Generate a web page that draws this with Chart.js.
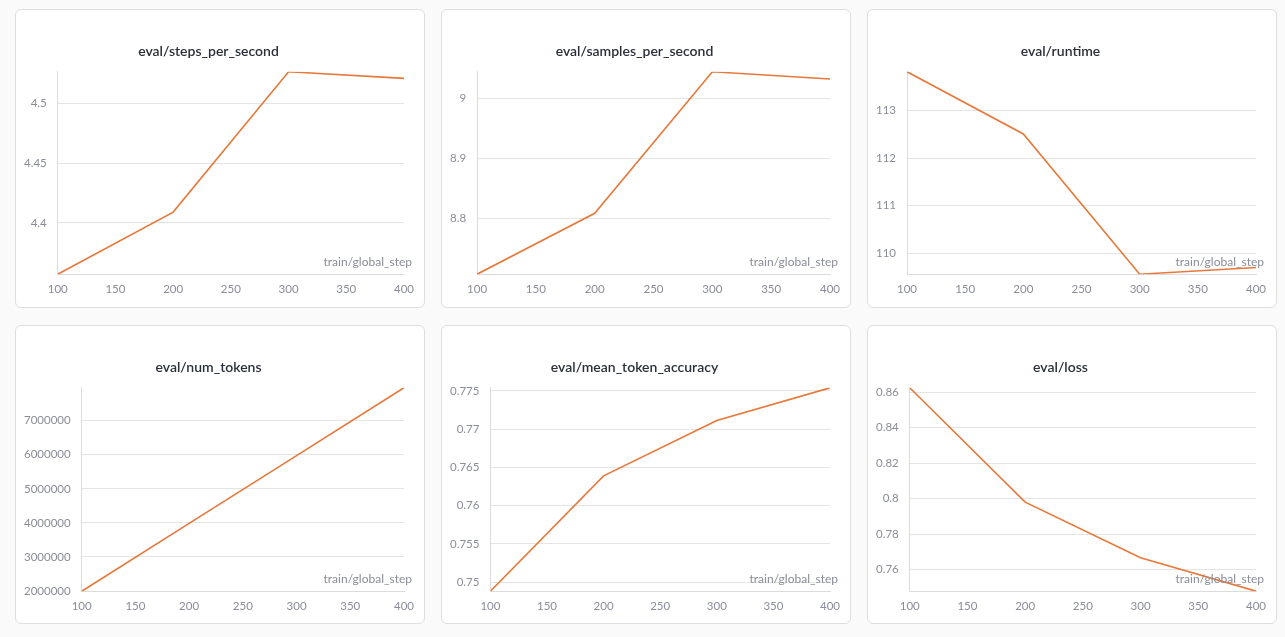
<!DOCTYPE html>
<html>
<head>
<meta charset="utf-8">
<script src="https://cdn.jsdelivr.net/npm/chart.js@4.4.0/dist/chart.umd.min.js"></script>
<style>
  html, body { margin: 0; padding: 0; background: #fafafa; width: 1285px; height: 637px; overflow: hidden; }
  .card { position: absolute; width: 408px; height: 297px; background: #fff; border: 1px solid #dedede; border-radius: 6px; box-sizing: content-box; }
  .card canvas { position: absolute; left: 0; top: 0; }
</style>
</head>
<body>
<div class="card" style="left:15px;top:9px"><canvas id="c0" width="408" height="297"></canvas></div>
<div class="card" style="left:441px;top:9px"><canvas id="c1" width="408" height="297"></canvas></div>
<div class="card" style="left:867px;top:9px"><canvas id="c2" width="408" height="297"></canvas></div>
<div class="card" style="left:15px;top:325px"><canvas id="c3" width="408" height="298"></canvas></div>
<div class="card" style="left:441px;top:325px"><canvas id="c4" width="408" height="298"></canvas></div>
<div class="card" style="left:867px;top:325px"><canvas id="c5" width="408" height="298"></canvas></div>
<script>
const steps = [100, 200, 300, 400];
const xTicks = [100, 150, 200, 250, 300, 350, 400];

const stepsPerSecond = [4.357, 4.409, 4.5265, 4.521];
const samplesPerSecond = [8.706, 8.808, 9.045, 9.033];
const runtime = [113.816, 112.507, 109.556, 109.696];
const numTokens = [1995000, 3985000, 5975000, 7965000];
const meanTokenAccuracy = [0.74881, 0.76389, 0.77113, 0.7754];
const evalLoss = [0.8625, 0.7981, 0.7668, 0.7479];

const ticksSteps = [4.4, 4.45, 4.5];
const ticksSamples = [8.8, 8.9, 9];
const ticksRuntime = [110, 111, 112, 113];
const ticksTokens = [2000000, 3000000, 4000000, 5000000, 6000000, 7000000];
const ticksAccuracy = [0.75, 0.755, 0.76, 0.765, 0.77, 0.775];
const ticksLoss = [0.76, 0.78, 0.8, 0.82, 0.84, 0.86];

const panels = [
  ['eval/steps_per_second', stepsPerSecond, ticksSteps],
  ['eval/samples_per_second', samplesPerSecond, ticksSamples],
  ['eval/runtime', runtime, ticksRuntime],
  ['eval/num_tokens', numTokens, ticksTokens],
  ['eval/mean_token_accuracy', meanTokenAccuracy, ticksAccuracy],
  ['eval/loss', evalLoss, ticksLoss]
];

// x axis name sits inside the plot, bottom right
const axisLabel = {
  id: 'axisLabel',
  afterDraw(chart) {
    const ctx = chart.ctx;
    const a = chart.chartArea;
    ctx.save();
    ctx.font = '12px Lato';
    ctx.fillStyle = '#8a8c99';
    ctx.textAlign = 'right';
    ctx.textBaseline = 'bottom';
    ctx.fillText('train/global_step', a.right + 8, a.bottom - 6);
    ctx.restore();
  }
};

Chart.defaults.font.family = 'Lato';
Chart.defaults.color = '#8a8c99';

panels.forEach(function (p, i) {
  const vals = p[1];
  const tickVals = p[2];
  new Chart(document.getElementById('c' + i), {
    type: 'line',
    data: {
      datasets: [{
        data: steps.map((s, j) => ({ x: s, y: vals[j] })),
        borderColor: '#e8773a',
        borderWidth: 1.6,
        pointRadius: 0,
        tension: 0
      }]
    },
    options: {
      responsive: false,
      animation: false,
      layout: { padding: { left: -3, right: 20, top: 0, bottom: 3 } },
      plugins: {
        legend: { display: false },
        tooltip: { enabled: false },
        title: {
          display: true,
          text: p[0],
          color: '#2b2f3a',
          font: { size: 14, weight: '600', family: 'Lato' },
          padding: { top: 33, bottom: 12 }
        }
      },
      scales: {
        x: {
          type: 'linear',
          min: 100,
          max: 400,
          afterBuildTicks: axis => { axis.ticks = xTicks.map(v => ({ value: v })); },
          grid: { display: false, drawTicks: false },
          border: { color: '#dcdcdc' },
          ticks: { padding: 8, font: { size: 11.5 }, maxRotation: 0 }
        },
        y: {
          type: 'linear',
          min: Math.min(...vals),
          max: Math.max(...vals),
          afterBuildTicks: axis => { axis.ticks = tickVals.map(v => ({ value: v })); },
          grid: { color: '#e4e4e4', drawTicks: false },
          border: { color: '#dcdcdc' },
          ticks: { padding: 11, font: { size: 11.5 }, callback: v => String(v) }
        }
      }
    },
    plugins: [axisLabel]
  });
});
</script>
</body>
</html>
